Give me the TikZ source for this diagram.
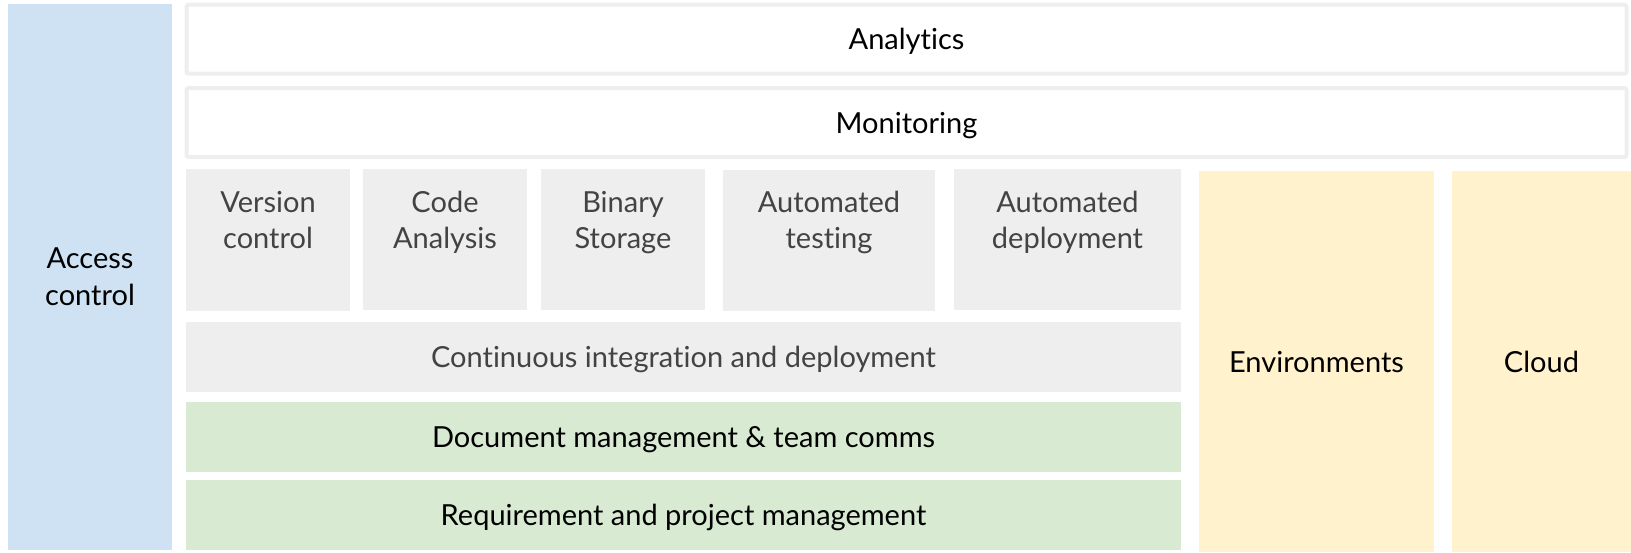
\documentclass[tikz,border=0pt]{standalone}
\usepackage{fontspec}
\setmainfont{Lato}[Ligatures=NoCommon]
\definecolor{acblue}{HTML}{CFE2F3}
\definecolor{cigray}{HTML}{EEEEEE}
\definecolor{dmgreen}{HTML}{D9EAD3}
\definecolor{envyellow}{HTML}{FFF2CC}
\definecolor{graytxt}{HTML}{434343}
\tikzset{
  base/.style={anchor=north west, inner sep=0pt, outer sep=0pt, align=center,
    font=\fontsize{29}{37}\selectfont},
  oneline/.style={text height=21pt, text depth=0pt},
  bluebox/.style={base, fill=acblue, text=black},
  framebox/.style={base, oneline, draw=cigray, line width=4pt, rounded corners=2pt, fill=white, text=black},
  graybox/.style={base, fill=cigray, text=graytxt},
  greenbox/.style={base, oneline, fill=dmgreen, text=black},
  yellowbox/.style={base, oneline, fill=envyellow, text=black},
  toptext/.style={anchor=north, inner sep=0pt, outer sep=0pt, align=center,
    font=\fontsize{29}{36}\selectfont, text=graytxt},
}
\begin{document}
\begin{tikzpicture}[x=1pt,y=-1pt]
\useasboundingbox (0,0) rectangle (1631,552);
% left column
\node[bluebox, minimum width=164pt, minimum height=546pt] (ac) at (8,4) {Access\\control};
% top bars
\node[framebox, minimum width=1440pt, minimum height=69pt] (an) at (186.5,4.7) {Analytics};
\node[framebox, minimum width=1440pt, minimum height=69pt] (mo) at (186.5,88) {Monitoring};
% tool boxes
\node[graybox, minimum width=164pt, minimum height=142pt] (vc) at (186,169) {};
\node[graybox, minimum width=164pt, minimum height=141pt] (ca) at (363,169) {};
\node[graybox, minimum width=164pt, minimum height=141pt] (bs) at (541,169) {};
\node[graybox, minimum width=212pt, minimum height=141pt] (at) at (723,170) {};
\node[graybox, minimum width=227pt, minimum height=141pt] (ad) at (954,169) {};
\node[toptext] (vct) at (268,182) {\rule{0pt}{30pt}Version\\control};
\node[toptext] (cat) at (445,182) {\rule{0pt}{30pt}Code\\Analysis};
\node[toptext] (bst) at (623,182) {\rule{0pt}{30pt}Binary\\Storage};
\node[toptext] (att) at (829,182) {\rule{0pt}{30pt}Automated\\testing};
\node[toptext] (adt) at (1067.5,182) {\rule{0pt}{30pt}Automated\\deployment};
% layers
\node[graybox, oneline, minimum width=995pt, minimum height=70pt] (ci) at (186,322) {Continuous integration and deployment};
\node[greenbox, minimum width=995pt, minimum height=70pt] (dm) at (186,402) {Document management \& team comms};
\node[greenbox, minimum width=995pt, minimum height=70pt] (rq) at (186,480) {Requirement and project management};
% right columns
\node[yellowbox, minimum width=235pt, minimum height=381pt] (env) at (1199,171) {Environments};
\node[yellowbox, minimum width=179pt, minimum height=381pt] (cl) at (1452,171) {Cloud};
\end{tikzpicture}
\end{document}
